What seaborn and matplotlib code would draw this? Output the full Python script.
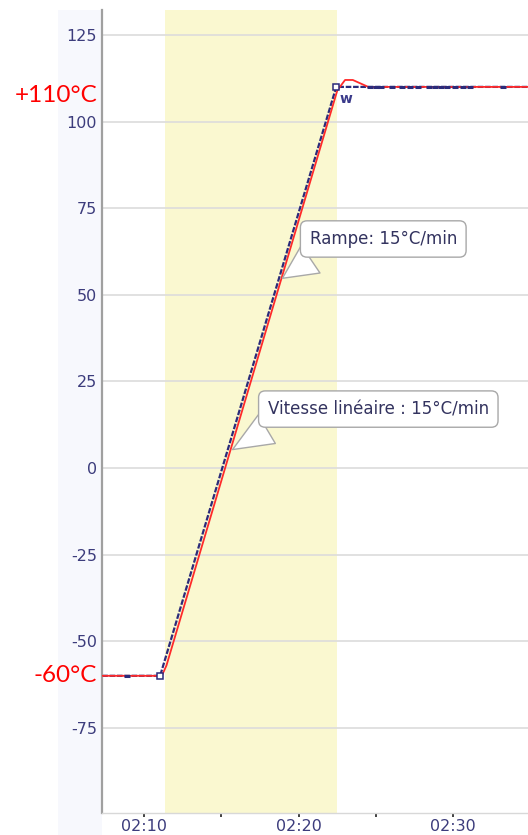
import matplotlib
matplotlib.use("Agg")
import matplotlib.pyplot as plt
import matplotlib.patches as mpatches
import seaborn as sns
import pandas as pd

# ---- data (minutes after 02:00) ----
setpoint_t = [7.3, 11.04, 22.43, 35.0]
setpoint_v = [-60, -60, 110, 110]

measured_t = [7.3, 11.15, 11.45, 22.5, 23.0, 23.5, 23.85, 24.5, 35.0]
measured_v = [-60, -60, -57, 109, 112, 112, 111.3, 110, 110]

mark_t = [8.9, 24.6, 25.0, 25.3, 26.05, 26.7, 27.2, 27.7, 28.4, 28.8, 29.2, 29.6, 30.1, 30.6, 31.1, 33.2]
mark_v = [-60, 110, 110, 110, 110, 110, 110, 110, 110, 110, 110, 110, 110, 110, 110, 110]

corner_t = [11.04, 22.43]
corner_v = [-60, 110]

ramp_start, ramp_end = 11.36, 22.5
yticks = [-75, -50, -25, 0, 25, 50, 75, 100, 125]
xticks = [10, 20, 30]
xticklabels = ["02:10", "02:20", "02:30"]
xminor = [15, 25]

sns.set_style("white")
plt.rcParams["font.family"] = ["DejaVu Sans"]

W, H = 528, 835
fig = plt.figure(figsize=(W / 100, H / 100), dpi=100)
fig.patch.set_facecolor("white")
# light lavender band behind the y tick labels
fig.patches.append(mpatches.Rectangle((58 / W, 0), (102 - 58) / W, 1 - 10 / H,
                                      transform=fig.transFigure, facecolor="#f7f8fd",
                                      edgecolor="none", zorder=-5))

ax = fig.add_axes([102 / W, 1 - 813 / H, 1 - 102 / W + 0.002, (813 - 10) / H])
ax.set_facecolor("white")

ax.axvspan(ramp_start, ramp_end, color="#faf8d0", zorder=0, lw=0)
for y in yticks:
    ax.axhline(y, color="#dcdcdc", lw=1.2, zorder=1)

sp = pd.DataFrame({"t": setpoint_t, "v": setpoint_v})
ms = pd.DataFrame({"t": measured_t, "v": measured_v})

sns.lineplot(data=sp, x="t", y="v", ax=ax, color="#2b2b7a", lw=1.6,
             linestyle=(0, (2.5, 0.8)), zorder=2, sort=False)
sns.lineplot(data=ms, x="t", y="v", ax=ax, color="#ff2a2a", lw=1.3, zorder=3, sort=False)
ax.plot(mark_t, mark_v, ls="none", marker="_", ms=5, mew=2.2, color="#2b2b7a", zorder=4)
ax.plot(corner_t, corner_v, ls="none", marker="s", ms=5, mfc="white", mec="#2b2b7a",
        mew=1.1, zorder=5)

ax.text(23.05, 106.5, "w", color="#3a3a8a", fontsize=10, ha="center", va="center",
        fontweight="bold", zorder=6)

ax.set_xlim(7.28, 34.9)
ax.set_ylim(-99.6, 132.2)
ax.set_xlabel("")
ax.set_ylabel("")

ax.set_yticks(yticks)
ax.set_yticklabels([str(v) for v in yticks])
ax.set_xticks(xticks)
ax.set_xticklabels(xticklabels)
ax.set_xticks(xminor, minor=True)
ax.tick_params(axis="y", length=0, pad=3.5, labelsize=11.5, labelcolor="#3c3c7c")
ax.tick_params(axis="x", which="major", length=3, width=1.3, color="#333333",
               pad=1.5, labelsize=11.5, labelcolor="#3c3c7c", direction="out", bottom=True)
ax.tick_params(axis="x", which="minor", length=3, width=1.3, color="#333333",
               direction="out", bottom=True)

for s in ["top", "right"]:
    ax.spines[s].set_visible(False)
ax.spines["left"].set_color("#a0a0a0")
ax.spines["left"].set_linewidth(1.6)
ax.spines["bottom"].set_color("#d8d8d8")
ax.spines["bottom"].set_linewidth(1.0)

box = dict(boxstyle="round,pad=0.55,rounding_size=0.4", fc="white", ec="#a8a8a8", lw=1.0)
arrow = dict(arrowstyle="wedge,tail_width=2.0,shrink_factor=0.5", fc="white",
             ec="#a8a8a8", lw=1.0, relpos=(0.12, 0.0))
ax.annotate("Rampe: 15°C/min", xy=(18.8, 54.3), xytext=(25.47, 66.1),
            ha="center", va="center", fontsize=12, color="#33335f",
            bbox=box, arrowprops=arrow, zorder=7)
ax.annotate("Vitesse linéaire : 15°C/min", xy=(15.57, 4.9), xytext=(25.15, 17.0),
            ha="center", va="center", fontsize=12, color="#33335f",
            bbox=box, arrowprops=dict(arrow, relpos=(0.08, 0.0)), zorder=7)

fig.text(97 / W, 1 - 95 / H, "+110°C", color="red", fontsize=17.5, ha="right",
         va="center", family=["Lato", "DejaVu Sans"])
fig.text(97 / W, 1 - 675 / H, "-60°C", color="red", fontsize=17.5, ha="right",
         va="center", family=["Lato", "DejaVu Sans"])

fig.savefig("out.png", dpi=100)
